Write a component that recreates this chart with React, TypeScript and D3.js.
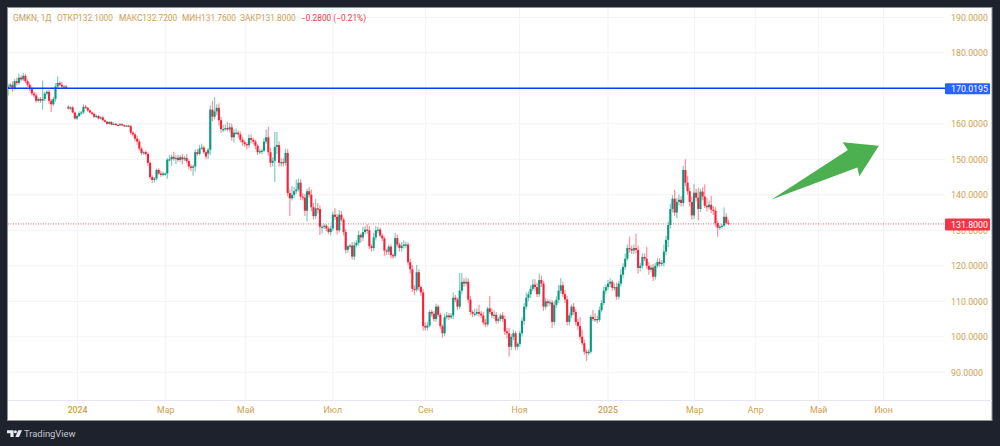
import * as d3 from 'd3';
import React from 'react';

// daily closes, 20 bars per row
const closes = [
  170.5, 171, 170, 172, 171.5, 173, 172.5, 173.5, 172, 171, 170, 168.5, 168, 166.5, 167, 166.5, 167, 168.5, 169, 166.5,
  165.5, 167, 170.5, 171.5, 171, 170.5, 170.5, 170.3, 164.3, 164.6, 163.2, 161.5, 162.2, 163, 163.2, 164.8, 164.5, 163.8, 163.2, 162.8,
  162, 162.2, 161.5, 161.8, 161, 160.6, 160, 160.5, 159.8, 160, 159.7, 159.6, 159.9, 159.6, 159.4, 159.5, 159.3, 157.5, 157, 155.8,
  155, 153, 151.8, 152, 151.5, 149, 145, 144.2, 144.6, 147, 146, 145.6, 146, 146, 149.9, 150, 150.7, 150.2, 150.4, 149.8,
  150.6, 150, 150.4, 149.5, 148, 147.6, 148, 152, 151.5, 153, 153.3, 152, 150.8, 152.7, 164, 162, 163.5, 164.5, 161, 158.5,
  158.5, 158.8, 158.4, 159, 156.2, 157.5, 157.5, 157, 155.5, 154.8, 154.3, 154, 156, 155.5, 155, 153.8, 152, 152.3, 152.4, 155,
  156.2, 152, 149, 149.6, 153.5, 154, 149, 149.2, 149, 151.8, 140.5, 139, 140, 141, 141.5, 143.4, 139.5, 139.2, 135.5, 141,
  140, 136.5, 134, 136.2, 136, 131, 131, 131.3, 130.5, 129.5, 130.5, 134.4, 133.8, 130, 134.4, 133, 129.5, 124.5, 125.5, 125.7,
  122.6, 125.8, 126.5, 128.7, 128, 129.5, 130.2, 130, 125.5, 125, 128, 130, 130.2, 128.5, 127.7, 124.3, 124, 125.4, 123, 122.8,
  127.8, 126, 125, 125.6, 126, 126, 121, 119, 113.5, 113.3, 118.2, 114, 112.5, 103, 102.6, 103.2, 107, 106.5, 105, 108.5,
  106.2, 103, 101, 105.5, 106, 105.5, 106, 111, 110.5, 108.5, 113, 115.5, 115, 115.5, 110.5, 107, 106.5, 106.5, 107, 106.5,
  106, 104, 103.5, 108, 107, 106, 106.2, 104.5, 105, 106, 105, 101.5, 101, 97.2, 100, 101, 97.2, 98, 101, 104.5,
  108.5, 111, 112, 113.5, 114.7, 114, 112, 116, 115, 108.5, 110, 109.5, 109.7, 104.2, 109, 110.4, 113, 114.5, 112, 110.5,
  104.2, 106, 108.5, 107, 104.2, 103, 100, 98.2, 95.8, 95.4, 95.8, 105.6, 105, 105, 104.8, 107.5, 109.5, 113, 114, 115,
  115.5, 113.8, 114, 111.3, 115, 117.5, 119.7, 122, 125, 124.7, 124.3, 125, 124.5, 119.4, 120, 122.5, 122, 120, 118.9, 119.5,
  116.9, 120, 121.1, 120.5, 120.8, 124, 127.3, 131.5, 136, 138.9, 135, 138, 138.6, 137.7, 147, 143.4, 141, 138, 134.2, 140.6,
  139.2, 136, 140.9, 139.5, 136.9, 136.5, 137.2, 135.8, 135.5, 132, 130.7, 131, 131.3, 133.8, 132.1, 131.8,
];

// bars that open away from the previous close (price gaps), [bar, open]
const gapOpens = new Map<number, number>([[0, 170], [28, 164.8], [93, 151.6]]);

const upperWicks = [
  .8, .5, 1, .6, 1, 1.2, .6, .9, .5, .5, .6, .5, .5, .8, .5, .5, 5.2, .6, .5, .6,
  .5, .6, 1, 1.8, .5, .8, .5, .4, .4, .3, .4, .3, .4, .5, .4, .7, .5, .3, .3, .3,
  .3, .4, .3, .3, .3, .3, .2, .3, .3, .4, .2, .3, .3, .2, .2, .2, .2, .4, .5, .5,
  .8, .6, .5, .4, .5, .5, .4, .5, .4, .4, .5, .7, .5, .3, .5, 1.2, .6, 1.4, .7, .8,
  .6, .9, .6, 1, .5, .6, .5, .8, .8, 1, 1.1, .6, .4, .5, 1.2, 2.5, 4, 1, 1.3, 1,
  1.2, 1, 1.8, 1.2, 1, 1, 1.2, .6, .8, .8, .6, .5, 1, 1, .6, .5, .5, .6, .5, 1,
  2.2, 3, 1.2, 1, 4.2, 3.7, 1, 1, 1, 1.2, 1, 1, 2.4, 1.2, 2.8, 1.2, 1, 1, 1.1, .8,
  1.2, 1.5, 1.2, 2.7, 1.5, 1, .6, .4, .4, .6, .8, .8, 1.8, .8, 1.3, 1, .6, .8, .5, .5,
  1, 1, .8, 1.2, .5, 1.5, 1.1, 1.5, 1.2, .6, 1.3, 1.2, .8, .6, .7, .6, .5, .5, .6, .5,
  1.5, 1, .6, 1, 1.2, .8, .6, 1, 1.2, 1, 2, .8, .5, 1, 1, 1, .5, .6, .8, .8,
  .5, .6, .5, 1, 1, .7, .6, 1.5, .8, .6, 5, 2.5, 1, 1.2, 1, 1, .5, 1.5, 1, 2,
  .8, 1, 1, .5, 3.5, 1, 1.3, .8, .5, .6, 1, 1, 1, 1.5, .8, 1, .6, .5, .8, 1,
  1, 1.5, .8, 1, 1.5, 1.5, 1.2, 1.8, 1.2, .8, 1, .6, .8, .6, 1, 1, 1.6, 2, 1, 1.2,
  1, .8, .6, 1, .8, .8, 2.5, 2, 1, .6, .6, .6, 2, 1.6, 1, 1, .8, 1, .8, 1,
  1, .6, 1, 1.2, .8, 1.5, 1, 1.5, 1, 3.2, 1, 1, 4, 1.2, .8, 1, 1, 3.4, 1, .8,
  1, .8, 1, 1, .8, 2, 1.2, 1, 1.5, 1, 2.5, 1.2, 1.5, 1, 1.2, 3, 2, 1, 1.5, 2.4,
  1, 2.8, .8, 1.2, 3.4, 2.2, 1.2, 2.5, 1, 1, .6, .6, .6, 2.6, 1, .9,
];

const lowerWicks = [
  2, .6, 1, .5, .7, .5, .6, .5, .5, .6, .8, .5, .6, .6, .5, .6, 2.5, .6, .5, 1,
  2.2, .5, .8, .5, .4, .7, .5, .6, .3, .4, .3, .3, .4, .3, .5, .4, .3, .5, .3, .3,
  .4, .3, .3, .2, .3, .3, .3, .2, .2, .2, .2, .2, .2, .2, .2, .2, .2, .6, .6, .7,
  .9, .6, .6, .5, .4, .8, .6, .9, .7, .5, .3, .5, .4, .6, 1.5, .5, 1.8, .6, 1.5, .5,
  .5, 1.4, .5, .6, .8, 1, 2.2, 1.5, .6, .4, .3, .5, .8, 1.5, 1.5, 1.3, .7, 1, 1.5, 1,
  .8, .5, .6, .8, 1, 1.5, .6, 1, .8, 1, .8, 1.2, .8, 1, .8, 1, .8, .5, .8, .5,
  .6, 1, 1.2, 1, 6, 2, 1, 1, 1, .8, 1, 5, .6, 1, .8, .6, 1, .8, 1.5, 3,
  .8, 1.2, 1, .8, 1.2, 2.3, 1.8, .6, .8, .5, 1, .8, .8, 1.2, .6, .6, 1, 1, .8, .7,
  .8, 1, .6, .8, 1.5, 1, .7, 1, .8, 1, .8, .8, .8, .5, .7, 1.5, 1, .8, .8, .8,
  .6, .8, 1, 1, .8, 1, .8, 1.2, .8, 1.5, .7, 1, 1, 1.2, .8, .8, .5, .8, .6, .8,
  .6, .8, 1.2, .8, .6, .8, .5, 1, .8, 1, .7, 1, 1, .6, 1, .8, 1, .7, .6, .8,
  .8, .6, .8, .6, .6, .8, 1, .8, .6, .6, .8, 1, 1.5, 2.8, 1, 1, 1, .8, .8, 1,
  1, .8, 1, 1, .6, 1, .8, .8, 1, 1.2, .8, 1, .8, 1.8, 1, .8, .8, .8, .8, 1,
  1, 1, .8, .8, 1, 1, .8, .6, .8, 2.2, .6, .6, .6, .8, 1, .6, .6, .6, 1, .8,
  1, .8, .8, .8, .8, .8, 1, .8, .6, 1, 1, 1, 1, 1.6, 1, .8, .6, .8, 1.4, .8,
  1.2, .8, .6, .8, .6, 1, 1, 2, 1, 1, 1, 1.5, 1, 1, 1, 1, 1, 1.2, 1.2, 1,
  1, 3.2, .8, 1, .6, 1.2, .6, 1, 1.2, 1, 2.5, .6, .5, .4, .4, .3,
];

const priceTicks = [190, 180, 170, 160, 150, 140, 130, 120, 110, 100, 90];
const monthLabels = ['2024', 'Мар', 'Май', 'Июл', 'Сен', 'Ноя', '2025', 'Мар', 'Апр', 'Май', 'Июн'];
const monthBars = [32.3, 73.3, 110.5, 151, 194.2, 237.9, 279, 319.3, 347.7, 377, 407.2];
const levelPrice = 170.0195;
const lastPrice = 131.8;
// arrow outline as [bar, price]
const arrowOutline: [number, number][] = [
  [355.1, 138.7], [390.6, 152.6], [388.1, 154.8], [405, 153.8], [395.9, 145.2], [395, 147.7],
];
const legendItems = [
  { text: 'GMKN, 1Д', pos: 13, color: '#c9a15c' },
  { text: 'ОТКР132.1000', pos: 57, color: '#cf9f4f' },
  { text: 'МАКС132.7200', pos: 119, color: '#cf9f4f' },
  { text: 'МИН131.7600', pos: 182, color: '#cf9f4f' },
  { text: 'ЗАКР131.8000', pos: 240, color: '#cf9f4f' },
  { text: '−0.2800 (−0.21%)', pos: 301, color: '#f23645' },
];

const UP = '#089981';
const DOWN = '#f7213a';
const FONT = 'Roboto, sans-serif';
const TICK = 8.8;

const x = d3.scaleLinear().domain([0, 335]).range([8.2, 728.4]);
const y = d3.scaleLinear().domain([90, 190]).range([372.3, 17.3]);

const bars = closes.map((close, i) => {
  const open = gapOpens.get(i) ?? closes[i - 1];
  return {
    open,
    close,
    high: Math.max(open, close) + upperWicks[i],
    low: Math.min(open, close) - lowerWicks[i],
  };
});

const arrowPath = d3.line()(arrowOutline.map(([b, p]) => [x(b), y(p)] as [number, number])) + 'Z';

export default function App() {
  return (
    <svg width={1000} height={446} style={{ position: 'fixed', left: 0, top: 0 }} fontFamily={FONT}>
      <defs>
        <clipPath id="pane"><rect x={8} y={8} width={937} height={392} /></clipPath>
      </defs>
      <rect width={1000} height={446} fill="#1e222d" />
      <rect x={7.5} y={7.5} width={984.5} height={413} fill="#fff" stroke="#8f929b" />

      {priceTicks.map(t => (
        <line key={t} x1={8} x2={945} y1={y(t)} y2={y(t)} stroke="#f2f3f5" />
      ))}
      {monthBars.map((b, i) => (
        <line key={i} x1={x(b)} x2={x(b)} y1={8} y2={400} stroke="#f2f3f5" />
      ))}
      <line x1={8} x2={992} y1={400.5} y2={400.5} stroke="#e6e6f0" />

      <g clipPath="url(#pane)">
        {bars.map((d, i) => (
          <line key={i} x1={x(i)} x2={x(i)} y1={y(d.high)} y2={y(d.low)}
            stroke={d.close >= d.open ? UP : DOWN} strokeOpacity={0.5} strokeWidth={1.2} />
        ))}
        {bars.map((d, i) => {
          const top = y(Math.max(d.open, d.close));
          const h = Math.abs(y(d.open) - y(d.close));
          return (
            <rect key={i} x={x(i) - 1.05} width={2.1} y={top} height={Math.max(h, 1.2)}
              fill={d.close >= d.open ? UP : DOWN} />
          );
        })}
      </g>

      <line x1={8} x2={945} y1={y(levelPrice)} y2={y(levelPrice)} stroke="#0c3bff" strokeWidth={1.5} />
      <line x1={8} x2={945} y1={y(lastPrice)} y2={y(lastPrice)} stroke="#f23645" strokeOpacity={0.8} strokeDasharray="1 1.5" />
      <path d={arrowPath} fill="#4caf50" />

      {legendItems.map(d => (
        <text key={d.text} x={d.pos} y={20.5} fontSize={8.3} fill={d.color}>{d.text}</text>
      ))}

      {priceTicks.filter(t => t !== 170).map(t => (
        <text key={t} x={951} y={y(t) + 3.2} fontSize={TICK} fill="#cf9f4f">{t.toFixed(4)}</text>
      ))}
      {monthLabels.map((m, i) => (
        <text key={i} x={x(monthBars[i])} y={413} fontSize={TICK} textAnchor="middle" fill="#cf9f4f"
          fontWeight={m.length === 4 ? 500 : 400}>{m}</text>
      ))}

      <rect x={945} y={y(levelPrice) - 5} width={45} height={11} rx={1} fill="#2962ff" />
      <text x={951} y={y(levelPrice) + 3.5} fontSize={TICK} fill="#fff">{levelPrice.toFixed(4)}</text>
      <rect x={945} y={y(lastPrice) - 5.5} width={45} height={12} rx={1} fill="#f23645" />
      <text x={951} y={y(lastPrice) + 3.7} fontSize={TICK} fill="#fff">{lastPrice.toFixed(4)}</text>

      <g fill="#e8e9ee">
        <path d="M7 430.2h6.6v6.8h-3.2v-3.8H7z" />
        <circle cx={15.4} cy={431.8} r={1.5} />
        <path d="M18.2 430.2h3.8l-2.9 6.8h-3.7z" />
      </g>
      <text x={24} y={436.6} fontSize={9.4} fill="#c5c8d0">TradingView</text>
    </svg>
  );
}
